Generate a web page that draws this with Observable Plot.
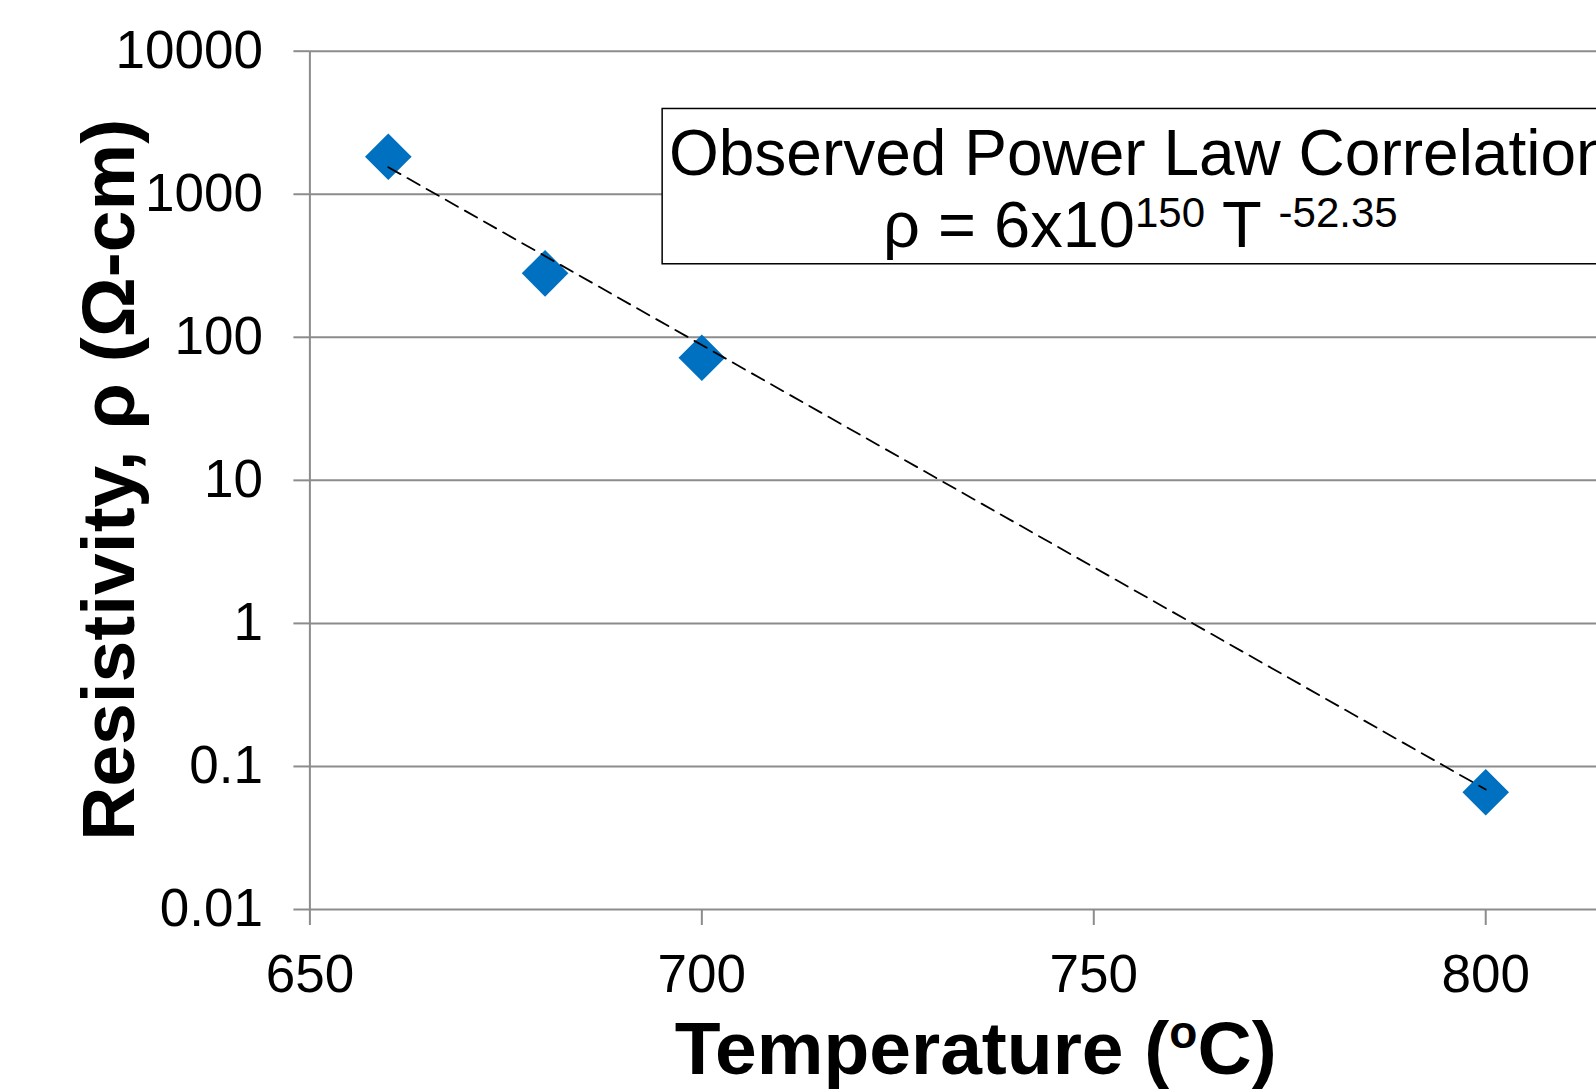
<!DOCTYPE html>
<html><head><meta charset="utf-8">
<script src="https://cdn.jsdelivr.net/npm/d3@7"></script>
<script src="https://cdn.jsdelivr.net/npm/@observablehq/plot@0.6"></script>
<style>
html,body{margin:0;padding:0;background:#fff;overflow:hidden;}
#chart svg{overflow:hidden;display:block;}
</style></head><body><div id="chart"></div>
<script>
// ---- data ----
const temperatures = [660, 680, 700, 800];
const resistivity = [1830, 280, 72, 0.066];
const trendTemperatures = [660, 800];
const trendResistivity = [1545, 0.069];
const xTicks = [650, 700, 750, 800];
const yTicks = [0.01, 0.1, 1, 10, 100, 1000, 10000];
const yTickLabels = ["0.01", "0.1", "1", "10", "100", "1000", "10000"];
const xDomain = [650, 820];
const yDomain = [0.01, 10000];
const boxTemperatures = [695, 817];
const boxResistivity = [324, 3945];
const xTitle = ["Temperature (", "o", "C)"];
const yTitle = "Resistivity, ρ (Ω-cm)";
const noteLine1 = "Observed Power Law Correlation";
const noteLine2 = ["ρ = 6x10", "150", " T ", "-52.35"];

// ---- build ----
const FONT = "'Liberation Sans', Arial, Helvetica, sans-serif";
const GRID = "#8c8c8c";
const BLUE = "#0070C0";
const W = 1596, H = 1089;
const points = temperatures.map((t, i) => ({T: t, rho: resistivity[i]}));
const trend = trendTemperatures.map((t, i) => ({T: t, rho: trendResistivity[i]}));
const box = [{x1: boxTemperatures[0], x2: boxTemperatures[1], y1: boxResistivity[0], y2: boxResistivity[1]}];
const yLabelMap = new Map(yTicks.map((d, i) => [d, yTickLabels[i]]));

const chart = Plot.plot({
  width: W, height: H,
  marginLeft: 309.4, marginTop: 50.7, marginBottom: 180, marginRight: 0,
  style: {fontFamily: FONT, fontSize: "53px", color: "black", background: "white", overflow: "hidden"},
  x: {domain: xDomain, range: [309.4, 1642]},
  y: {type: "log", domain: yDomain},
  marks: [
    Plot.gridY(yTicks, {stroke: GRID, strokeOpacity: 1, strokeWidth: 2}),
    Plot.ruleX([xDomain[0]], {stroke: GRID, strokeWidth: 2}),
    Plot.axisY(yTicks, {tickSize: 16, tickPadding: 31, tickFormat: d => yLabelMap.get(d),
      stroke: GRID, strokeWidth: 2, fill: "black", fontSize: 53, label: null}),
    Plot.axisX(xTicks, {tickSize: 16, tickPadding: 29, tickFormat: d => String(d),
      stroke: GRID, strokeWidth: 2, fill: "black", fontSize: 53, label: null}),
    Plot.rect(box, {x1: "x1", x2: "x2", y1: "y1", y2: "y2", fill: "white", stroke: "black", strokeWidth: 1.5}),
    Plot.dot(points, {x: "T", y: "rho", symbol: "diamond2", r: 21, fill: BLUE, stroke: null}),
    Plot.line(trend, {x: "T", y: "rho", stroke: "black", strokeWidth: 1.8, strokeDasharray: "14,8"})
  ]
});
document.getElementById("chart").appendChild(chart);

// ---- annotations with superscripts ----
const sx = chart.scale("x"), sy = chart.scale("y");
const svg = d3.select(chart);
const xr = sx.range, yr = sy.range;

// x title
const xt = svg.append("text")
  .attr("x", (xr[0] + xr[1]) / 2).attr("y", H - 15)
  .attr("text-anchor", "middle")
  .attr("font-family", FONT).attr("font-weight", "bold").attr("font-size", 75).attr("fill", "black");
xt.append("tspan").text(xTitle[0]);
xt.append("tspan").attr("font-size", 46).attr("dy", -26).text(xTitle[1]);
xt.append("tspan").attr("dy", 26).text(xTitle[2]);

// y title
const ycx = 133.5, ycy = (yr[0] + yr[1]) / 2;
svg.append("text")
  .attr("transform", `translate(${ycx},${ycy}) rotate(-90)`)
  .attr("text-anchor", "middle")
  .attr("font-family", FONT).attr("font-weight", "bold").attr("font-size", 75).attr("fill", "black")
  .text(yTitle);

// note text inside box
const bx1 = sx.apply(boxTemperatures[0]), bx2 = sx.apply(boxTemperatures[1]);
const byTop = sy.apply(boxResistivity[1]), byBot = sy.apply(boxResistivity[0]);
const bcx = (bx1 + bx2) / 2, bh = byBot - byTop;
svg.append("text")
  .attr("x", bcx).attr("y", byTop + bh * 0.428)
  .attr("text-anchor", "middle")
  .attr("font-family", FONT).attr("font-size", 64).attr("fill", "black")
  .text(noteLine1);
const n2 = svg.append("text")
  .attr("x", bcx).attr("y", byTop + bh * 0.892)
  .attr("text-anchor", "middle")
  .attr("font-family", FONT).attr("font-size", 65).attr("fill", "black");
n2.append("tspan").text(noteLine2[0]);
n2.append("tspan").attr("font-size", 42).attr("dy", -20).text(noteLine2[1]);
n2.append("tspan").attr("dy", 20).text(noteLine2[2]);
n2.append("tspan").attr("font-size", 42).attr("dy", -20).text(noteLine2[3]);
</script>
</body></html>
